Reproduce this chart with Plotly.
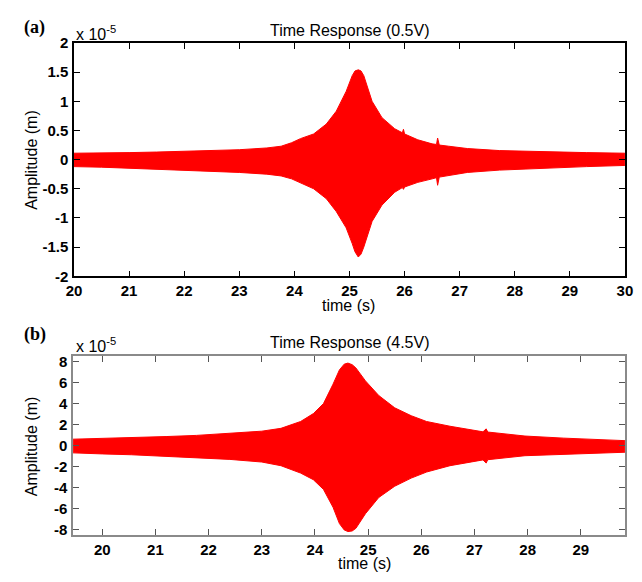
import plotly.graph_objects as go

# ---- Panel (a): 0.5 V drive, envelope of the displacement signal (x 1e-5 m) ----
t_a = [20.0, 20.5, 21.0, 21.5, 22.0, 22.5, 23.0, 23.5, 23.76, 23.95, 24.11, 24.35, 24.58,
       24.76, 24.94, 25.05, 25.1, 25.16, 25.21, 25.26, 25.41, 25.59, 25.82, 25.96,
       25.98, 26.0, 26.24, 26.5, 26.58, 26.6, 26.63, 26.8, 27.14, 27.72, 28.6,
       29.3, 30.0]
upper_a = [0.11, 0.11, 0.12, 0.13, 0.14, 0.15, 0.17, 0.20, 0.23, 0.29, 0.36, 0.44, 0.61,
           0.83, 1.17, 1.44, 1.52, 1.54, 1.52, 1.44, 1.00, 0.72, 0.53, 0.46,
           0.52, 0.44, 0.34, 0.27, 0.26, 0.37, 0.25, 0.23, 0.19, 0.155, 0.13,
           0.12, 0.11]
lower_a = [-0.12, -0.13, -0.15, -0.16, -0.18, -0.20, -0.22, -0.25, -0.28, -0.33, -0.39, -0.50, -0.67,
           -0.89, -1.17, -1.44, -1.58, -1.67, -1.62, -1.50, -1.06, -0.78, -0.56, -0.48,
           -0.51, -0.47, -0.39, -0.33, -0.31, -0.44, -0.30, -0.27, -0.22, -0.18, -0.15,
           -0.12, -0.10]

# ---- Panel (b): 4.5 V drive ----
t_b = [19.45, 20.0, 20.55, 21.2, 21.77, 22.4, 23.0, 23.36, 23.73, 23.97, 24.16,
       24.34, 24.46, 24.55, 24.62, 24.7, 24.77, 24.95, 25.2, 25.5, 25.81, 26.1,
       26.54, 27.16, 27.22, 27.25, 27.95, 28.68, 29.3, 29.84]
upper_b = [0.62, 0.68, 0.77, 0.87, 0.98, 1.15, 1.38, 1.65, 2.30, 3.05, 4.00,
           5.85, 7.20, 7.75, 7.85, 7.70, 7.39, 6.16, 4.77, 3.60, 2.85, 2.30,
           1.85, 1.32, 1.60, 1.30, 0.92, 0.72, 0.58, 0.48]
lower_b = [-0.68, -0.78, -0.86, -0.98, -1.14, -1.30, -1.55, -1.90, -2.60, -3.23, -4.15,
           -5.85, -7.40, -8.00, -8.16, -8.10, -7.85, -6.46, -4.92, -3.85, -3.08, -2.50,
           -1.90, -1.35, -1.65, -1.33, -0.95, -0.80, -0.70, -0.62]

xticks_a = list(range(20, 31))
yticks_a = [2, 1.5, 1, 0.5, 0, -0.5, -1, -1.5, -2]
yticklabels_a = ["2", "1.5", "1", "0.5", "0", "-0.5", "-1", "-1.5", "-2"]
xticks_b = list(range(20, 30))
yticks_b = [8, 6, 4, 2, 0, -2, -4, -6, -8]
yticklabels_b = ["8", "6", "4", "2", "0", "-2", "-4", "-6", "-8"]

W, H = 642, 582
RED = "#ff0000"
FONT = "Arial, Liberation Sans, sans-serif"


def px(x):
    return x / W


def py(y):
    return 1 - y / H


fig = go.Figure()


def band(t, up, lo, xa, ya):
    fig.add_trace(go.Scatter(
        x=t + t[::-1], y=up + lo[::-1], mode="lines", fill="toself",
        fillcolor=RED, line=dict(color=RED, width=1),
        xaxis=xa, yaxis=ya, hoverinfo="skip", showlegend=False))


band(t_a, upper_a, lower_a, "x", "y")
band(t_b, upper_b, lower_b, "x2", "y2")

tickfont = dict(family=FONT, size=15, color="black", weight="bold")


def axis(domain, rng, vals, text, color, tickcolor, standoff):
    return dict(domain=domain, range=rng, tickvals=vals, ticktext=text,
                showline=True, linecolor=color, linewidth=1.5, mirror="ticks",
                ticks="inside", ticklen=6, tickwidth=1.2, tickcolor=tickcolor,
                showgrid=False, zeroline=False, tickfont=tickfont, fixedrange=True,
                ticklabelstandoff=standoff, ticklabeloverflow="allow")


fig.update_layout(
    width=W, height=H, margin=dict(l=0, r=0, t=0, b=0),
    paper_bgcolor="white", plot_bgcolor="white", showlegend=False,
    xaxis=dict(axis([px(67.7), px(632.7)], [20, 30], xticks_a,
                    [str(v) for v in xticks_a], "black", "black", 0), anchor="y"),
    yaxis=dict(axis([py(275.3), py(35)], [-2, 2], yticks_a, yticklabels_a,
                    "black", "black", 1), anchor="x"),
    xaxis2=dict(axis([px(66.7), px(632.7)], [19.45, 29.83], xticks_b,
                     [str(v) for v in xticks_b], "#8a8a8a", "#555555", 0), anchor="y2"),
    yaxis2=dict(axis([py(542), py(357.7)], [-8.5, 8.5], yticks_b, yticklabels_b,
                     "#8a8a8a", "#555555", 1), anchor="x2"),
)

txt = dict(family=FONT, size=16, color="black")
serif = dict(family="Liberation Serif, Times New Roman, serif", size=18, color="black",
             weight="bold")


def label(x, y, text, font=txt, angle=0, xanchor="center"):
    fig.add_annotation(x=px(x), y=py(y), xref="paper", yref="paper", text=text,
                       showarrow=False, font=font, textangle=angle,
                       xanchor=xanchor, yanchor="middle")


label(350, 22, "Time Response (0.5V)")
label(350, 344, "Time Response (4.5V)")
label(349, 305, "time (s)")
label(366, 571, "time (s)")
label(24, 155, "Amplitude (m)", angle=-90)
label(24, 450, "Amplitude (m)", angle=-90)
label(27.5, 19, "(a)", font=serif)
label(27.5, 335, "(b)", font=serif)
label(68, 25, "x 10<sup>-5</sup>", xanchor="left")
label(68, 346, "x 10<sup>-5</sup>", xanchor="left")

fig.write_html("out.html")
